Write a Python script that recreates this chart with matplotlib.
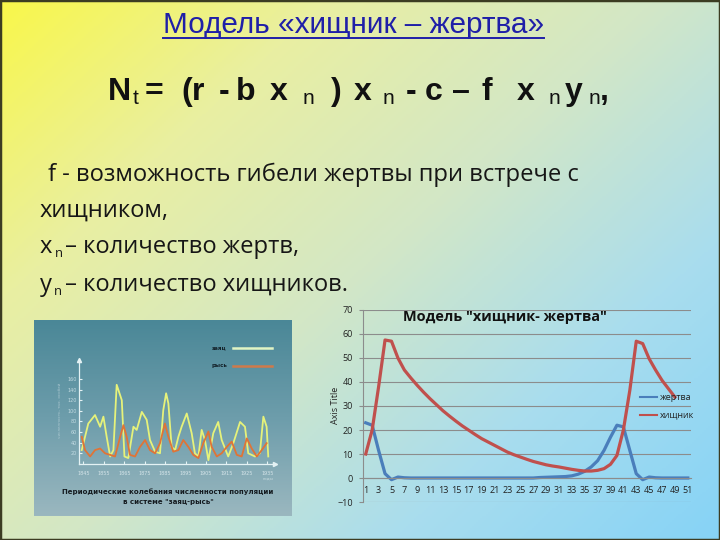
import matplotlib
matplotlib.use('Agg')
import numpy as np
import matplotlib.pyplot as plt
from matplotlib.colors import LinearSegmentedColormap
from matplotlib.lines import Line2D
from matplotlib.patches import Rectangle

# ---- данные модели "хищник - жертва" (значения по категориям 1..51)
prey = [23, 22, 11.5, 1.8, -0.7, 0.4, 0.1, 0, 0, 0,
        0, 0, 0, 0, 0, 0, 0, 0, 0, 0,
        0, 0, 0, 0, 0, 0, 0, 0.2, 0.3, 0.4,
        0.5, 0.6, 0.9, 1.6, 2.8, 4.6, 7.2, 11.5, 17, 22,
        21.3, 11.5, 1.8, -0.7, 0.4, 0.1, 0, 0, 0, 0, 0]
predator = [10, 20, 38, 57.5, 57, 50, 45, 41.7, 38.6, 35.7,
            33, 30.5, 28, 25.8, 23.7, 21.7, 19.9, 18.1, 16.4, 15,
            13.6, 12.2, 10.8, 9.7, 8.75, 7.8, 6.9, 6.2, 5.5, 5,
            4.6, 4.1, 3.6, 3.2, 2.9, 2.9, 3.2, 3.9, 5.7, 9.4,
            20, 36.5, 57, 56, 49.7, 45, 40.7, 37.2, 33.7]
series_names = ['жертва', 'хищник']

# ---- картинка "заяц-рысь" (годы, тыс. особей)
hare_years = [1844.2, 1847.4, 1850.7, 1853.2, 1854.8, 1856.4, 1858.1, 1859.7, 1861.3, 1863.8,
              1865.1, 1867.0, 1869.5, 1871.1, 1873.6, 1876.0, 1877.6, 1880.1, 1882.5, 1884.1,
              1885.5, 1886.6, 1888.2, 1889.9, 1891.5, 1893.1, 1895.6, 1898.0, 1899.6, 1901.3,
              1902.9, 1904.5, 1906.2, 1908.6, 1911.0, 1912.7, 1915.9, 1918.4, 1921.7, 1924.1,
              1925.7, 1929.0, 1931.4, 1933.1, 1934.7, 1935.5]
hare = [26, 76, 92, 70, 89, 51, 14, 26, 149, 120,
        14, 11, 70, 64, 98, 83, 45, 23, 20, 101,
        133, 114, 32, 26, 51, 70, 95, 58, 20, 14,
        64, 45, 7, 58, 79, 45, 14, 39, 79, 70,
        20, 14, 20, 89, 70, 14]
lynx_years = [1844.2, 1845.8, 1848.3, 1850.7, 1853.2, 1855.6, 1858.1, 1860.5, 1863.0, 1864.6,
              1866.2, 1867.8, 1870.3, 1872.7, 1875.2, 1877.6, 1880.1, 1882.5, 1884.9, 1886.6,
              1889.0, 1891.5, 1893.9, 1896.4, 1898.8, 1901.3, 1903.7, 1906.2, 1907.8, 1910.3,
              1912.7, 1915.2, 1917.6, 1920.1, 1922.5, 1925.0, 1927.4, 1929.9, 1932.3, 1934.7]
lynx = [51, 26, 14, 26, 29, 20, 17, 14, 51, 73,
        51, 17, 14, 32, 45, 26, 20, 39, 76, 51,
        23, 26, 45, 32, 17, 11, 39, 61, 32, 14,
        20, 32, 42, 17, 14, 48, 29, 14, 26, 39]
year_ticks = list(range(1845, 1936, 10))

W, H = 720, 540
fig = plt.figure(figsize=(7.2, 5.4), dpi=100)
renderer = fig.canvas.get_renderer()


def fx(x):
    return x / W


def fy(y):
    return 1 - y / H


def put(x, y, s, width=None, **kw):
    # текст по пиксельным координатам (базовая линия), при необходимости подгоняем ширину
    t = fig.text(fx(x), fy(y), s, va='baseline', ha='left', **kw)
    if width:
        w = t.get_window_extent(renderer).width
        t.set_fontsize(t.get_fontsize() * width / w)
    return t


# фон слайда
slide_cmap = LinearSegmentedColormap.from_list(
    'slide', ['#f9f74a', '#e9efa2', '#d3e7c6', '#a9ddee', '#86d3f6'])
bg = fig.add_axes([0, 0, 1, 1], zorder=-10)
gx, gy = np.meshgrid(np.linspace(0, 1, 360), np.linspace(0, 1, 270))
bg.imshow(gx * 0.55 + gy * 0.45, cmap=slide_cmap, extent=[0, 1, 0, 1],
          aspect='auto', origin='upper')
bg.axis('off')
fig.patches.append(Rectangle((0, 0), 1, 1, transform=fig.transFigure, fill=False,
                             edgecolor='#3c3c22', lw=2.5))

narrow = ['Liberation Sans Narrow', 'Liberation Sans', 'DejaVu Sans']
body = ['Open Sans', 'DejaVu Sans']

# заголовок
title = put(163, 33, 'Модель «хищник – жертва»', width=380, family=narrow,
            fontsize=20, color='#1f1fa8')
bb = title.get_window_extent(renderer)
fig.add_artist(Line2D([bb.x0 / W, bb.x1 / W], [fy(38), fy(38)], color='#1f1fa8', lw=1.4))

# формула
formula = [('N', 108, 'b'), ('t', 133, 's'), ('=', 145, 'b'), ('(', 181, 'b'), ('r', 192, 'b'),
           ('-', 219, 'b'), ('b', 236, 'b'), ('x', 270, 'b'), ('n', 303, 's'), (')', 331, 'b'),
           ('x', 354, 'b'), ('n', 383, 's'), ('-', 406, 'b'), ('c', 425, 'b'), ('–', 452, 'b'),
           ('f', 482, 'b'), ('x', 517, 'b'), ('n', 549, 's'), ('y', 565, 'b'), ('n', 589, 's'),
           (',', 600, 'b')]
for s, x, kind in formula:
    if kind == 'b':
        put(x, 100, s, family=narrow, fontsize=23, weight='bold', color='#111111')
    else:
        put(x, 104, s, family=narrow, fontsize=15, color='#111111')

# пояснения
l1 = put(48, 181, 'f - возможность гибели жертвы при встрече с', width=530,
         family=body, fontsize=16, color='#161616')
fs = l1.get_fontsize()
put(40, 217, 'хищником,', family=body, fontsize=fs, color='#161616')
put(40, 253, 'x', family=body, fontsize=fs, color='#161616')
put(55, 257, 'n', family=body, fontsize=fs * 0.55, color='#161616')
put(65, 253, '– количество жертв,', family=body, fontsize=fs, color='#161616')
put(40, 291, 'y', family=body, fontsize=fs, color='#161616')
put(54, 295, 'n', family=body, fontsize=fs * 0.55, color='#161616')
put(65, 291, '– количество хищников.', family=body, fontsize=fs, color='#161616')

# ---- картинка слева
pic = fig.add_axes([fx(34), fy(516), 258 / W, 196 / H], zorder=1)
pic_cmap = LinearSegmentedColormap.from_list('pic', ['#4a8797', '#6d9dab', '#9ab7bf'])
pic.imshow(np.linspace(0, 1, 100)[:, None], cmap=pic_cmap, extent=[0, 1, 0, 1],
           aspect='auto', origin='upper')
pic.set_xlim(0, 1)
pic.set_ylim(0, 1)
pic.axis('off')

hl = fig.add_axes([fx(79.3), fy(463.9), (275 - 79.3) / W, (463.9 - 360) / H], zorder=2)
hl.patch.set_alpha(0)
hl.plot(hare_years, hare, color='#e6f27a', lw=1.3)
hl.plot(lynx_years, lynx, color='#e07436', lw=1.3)
hl.set_xlim(1843.0, 1938.8)
hl.set_ylim(0, 195.7)
for side in ['top', 'right']:
    hl.spines[side].set_visible(False)
for side in ['left', 'bottom']:
    hl.spines[side].set_color('#e4f2f4')
    hl.spines[side].set_linewidth(0.9)
hl.plot(1, 0, '>', color='#e4f2f4', ms=3, transform=hl.transAxes, clip_on=False)
hl.plot(0, 1, '^', color='#e4f2f4', ms=3, transform=hl.transAxes, clip_on=False)
hl.set_yticks(range(20, 161, 20))
hl.set_xticks(year_ticks)
hl.tick_params(axis='y', labelsize=3.5, labelcolor='#c2dbe2', color='#e4f2f4',
               length=2, direction='in', pad=2)
hl.tick_params(axis='x', labelsize=3.5, labelcolor='#d4e4e8', color='#e4f2f4',
               length=2, direction='in', pad=5)
fig.text(fx(60), fy(410), 'численность, тыс. особей', rotation=90, ha='center', va='center',
         fontsize=3, color='#a9c6cf', zorder=3)
fig.text(fx(268), fy(479), 'годы', ha='center', va='center', fontsize=3, color='#c8dce0',
         zorder=3)
fig.text(fx(219), fy(348), 'заяц', ha='center', va='center', fontsize=4, weight='bold',
         color='#14222a', zorder=3)
fig.text(fx(219), fy(366), 'рысь', ha='center', va='center', fontsize=4, weight='bold',
         color='#14222a', zorder=3)
fig.add_artist(Line2D([fx(233), fx(272)], [fy(348), fy(348)], color='#e2f4c4', lw=1.8, zorder=3))
fig.add_artist(Line2D([fx(233), fx(272)], [fy(366), fy(366)], color='#cf7a4a', lw=1.8, zorder=3))
fig.text(fx(168), fy(492), 'Периодические колебания численности популяции', ha='center',
         va='center', fontsize=5, weight='bold', color='#151b20', zorder=3)
fig.text(fx(168), fy(502), 'в системе "заяц-рысь"', ha='center', va='center', fontsize=5,
         weight='bold', color='#151b20', zorder=3)

# ---- график модели
ax = fig.add_axes([fx(362.5), fy(502), (691 - 362.5) / W, 192 / H], zorder=1)
ax.patch.set_alpha(0)
cats = np.arange(1, 52)
ax.plot(cats[:len(prey)], prey, color='#4a7ebb', lw=2.3, label=series_names[0])
ax.plot(cats[:len(predator)], predator, color='#c0504d', lw=2.3, label=series_names[1])
ax.set_xlim(0.5, 51.5)
ax.set_ylim(-10, 70)
ax.set_yticks(range(-10, 71, 10))
ax.set_xticks(cats[::2])
ax.grid(axis='y', color='#8c8c8c', lw=0.8)
ax.set_axisbelow(True)
for side in ['top', 'right']:
    ax.spines[side].set_visible(False)
ax.spines['bottom'].set_position(('data', 0))
ax.spines['bottom'].set_color('#8c8c8c')
ax.spines['left'].set_color('#8c8c8c')
ax.tick_params(axis='x', length=0, pad=6, labelsize=6.5, labelcolor='#222222')
ax.tick_params(axis='y', length=3, pad=4, labelsize=6.5, labelcolor='#222222', color='#8c8c8c')
for lab in ax.get_xticklabels() + ax.get_yticklabels():
    lab.set_family(body)

fig.text(fx(335), fy(405), 'Axis Title', rotation=90, ha='center', va='center',
         fontsize=6.5, family=body, color='#222222')
t = put(403, 321, 'Модель "хищник- жертва"', width=205, family=body, fontsize=10,
        weight='bold', color='#111111')

# легенда
leg_y = [397, 415]
leg_c = ['#4a7ebb', '#c0504d']
for name, yy, c in zip(series_names, leg_y, leg_c):
    fig.add_artist(Line2D([fx(640), fx(657)], [fy(yy), fy(yy)], color=c, lw=1.5, zorder=3))
    fig.text(fx(660), fy(yy), name, ha='left', va='center', fontsize=6.5, family=body,
             color='#222222', zorder=3)

fig.savefig('out.png', dpi=100)
